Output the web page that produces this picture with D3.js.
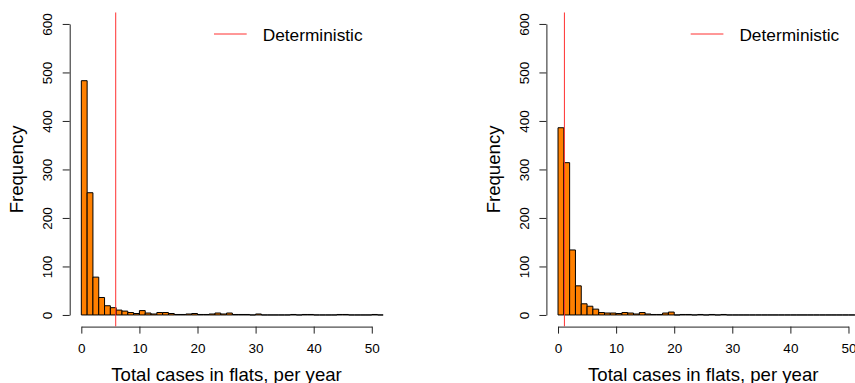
<!DOCTYPE html>
<html>
<head>
<meta charset="utf-8">
<script src="https://cdn.jsdelivr.net/npm/d3@7/dist/d3.min.js"></script>
<style>
  body { margin: 0; background: #fff; }
  svg text { font-family: "Liberation Sans", Arial, Helvetica, sans-serif; fill: #000; }
</style>
</head>
<body>
<div class="chart"></div>
<script>
// histogram counts, one bin per unit from 0 to 52
var countsFlatsA = [483, 252, 78, 36, 19, 15, 10, 8, 5, 3,
  9, 4, 2, 5, 5, 3, 1, 1, 2, 3,
  1, 1, 2, 4, 2, 4, 1, 1, 1, 0,
  2, 0, 0, 0, 0, 0, 1, 0, 1, 1,
  0, 0, 0, 0, 1, 1, 0, 0, 0, 0,
  1, 0];
var countsFlatsB = [386, 314, 134, 60, 23, 18, 12, 5, 4, 4,
  3, 5, 4, 2, 5, 2, 1, 1, 4, 6,
  0, 1, 1, 0, 1, 0, 1, 0, 1, 0,
  0, 0, 0, 0, 0, 0, 0, 0, 0, 0,
  0, 0, 0, 0, 0, 0, 0, 0, 0, 0,
  0, 0];
// deterministic model result for each scenario
var deterministicA = 5.92;
var deterministicB = 1.1;

var xTicks = [0, 10, 20, 30, 40, 50];
var yTicks = [0, 100, 200, 300, 400, 500, 600];
var xTitle = 'Total cases in flats, per year';
var yTitle = 'Frequency';
var legendText = 'Deterministic';

var width = 855, height = 383;
var plotW = 313.7, plotTop = 12.3, plotBottom = 326.6;

var svg = d3.select('.chart')
  .append('svg')
    .attr('width', width)
    .attr('height', height);

drawPanel(69.7, countsFlatsA, deterministicA, 'clipA');
drawPanel(546.4, countsFlatsB, deterministicB, 'clipB');

function drawPanel(left, counts, det, clipId) {
  // R-style padded limits: x -2..52, y -24..624
  var x = d3.scaleLinear().domain([-2, 52]).range([left, left + plotW]);
  var y = d3.scaleLinear().domain([-24, 624]).range([plotBottom, plotTop]);

  svg.append('clipPath')
      .attr('id', clipId)
    .append('rect')
      .attr('x', left)
      .attr('y', plotTop)
      .attr('width', plotW)
      .attr('height', plotBottom - plotTop);

  var plot = svg.append('g').attr('clip-path', 'url(#' + clipId + ')');

  // paths rather than rects so empty bins still show their outline
  plot.selectAll('.bar')
    .data(counts)
    .enter()
    .append('path')
      .attr('class', 'bar')
      .attr('d', (d, i) => 'M' + x(i) + ',' + y(0) + 'H' + x(i + 1) + 'V' + y(d) + 'H' + x(i) + 'Z')
      .style('fill', '#ff8000')
      .style('stroke', '#000')
      .style('stroke-width', 1);

  plot.append('line')
    .attr('x1', x(det))
    .attr('x2', x(det))
    .attr('y1', plotTop)
    .attr('y2', plotBottom)
    .style('stroke', '#ff3030')
    .style('stroke-width', 1);

  // axes only span the first to last tick
  var yAxisScale = d3.scaleLinear().domain([0, 600]).range([y(0), y(600)]);
  var yAxis = svg.append('g')
      .attr('transform', `translate(${left}, 0)`)
      .call(d3.axisLeft(yAxisScale).tickValues(yTicks).tickSize(7).tickSizeOuter(0).tickFormat(d3.format('d')))
      .attr('font-size', 13.5)
      .attr('font-family', null)
      .style('color', '#222');
  yAxis.selectAll('text')
    .attr('transform', 'rotate(-90)')
    .attr('x', 0)
    .attr('y', -17.3)
    .attr('dy', 0)
    .attr('text-anchor', 'middle');

  var xAxisScale = d3.scaleLinear().domain([0, 50]).range([x(0), x(50)]);
  var xAxis = svg.append('g')
      .attr('transform', `translate(0, ${plotBottom})`)
      .call(d3.axisBottom(xAxisScale).tickValues(xTicks).tickSize(7).tickSizeOuter(0).tickFormat(d3.format('d')))
      .attr('font-size', 13.5)
      .attr('font-family', null)
      .style('color', '#222');
  xAxis.selectAll('text')
    .attr('y', 26)
    .attr('dy', 0);

  svg.append('text')
    .attr('x', left + plotW / 2)
    .attr('y', 380.5)
    .attr('text-anchor', 'middle')
    .style('font-size', '18.6px')
    .text(xTitle);

  svg.append('text')
    .attr('transform', `translate(${left - 46.4}, ${(plotTop + plotBottom) / 2}) rotate(-90)`)
    .attr('text-anchor', 'middle')
    .style('font-size', '18.6px')
    .text(yTitle);

  // legend, no box
  svg.append('line')
    .attr('x1', left + 144.3)
    .attr('x2', left + 177)
    .attr('y1', 34)
    .attr('y2', 34)
    .style('stroke', '#ff3030')
    .style('stroke-width', 1);
  svg.append('text')
    .attr('x', left + 193)
    .attr('y', 40.7)
    .style('font-size', '17.3px')
    .text(legendText);
}
</script>
</body>
</html>
